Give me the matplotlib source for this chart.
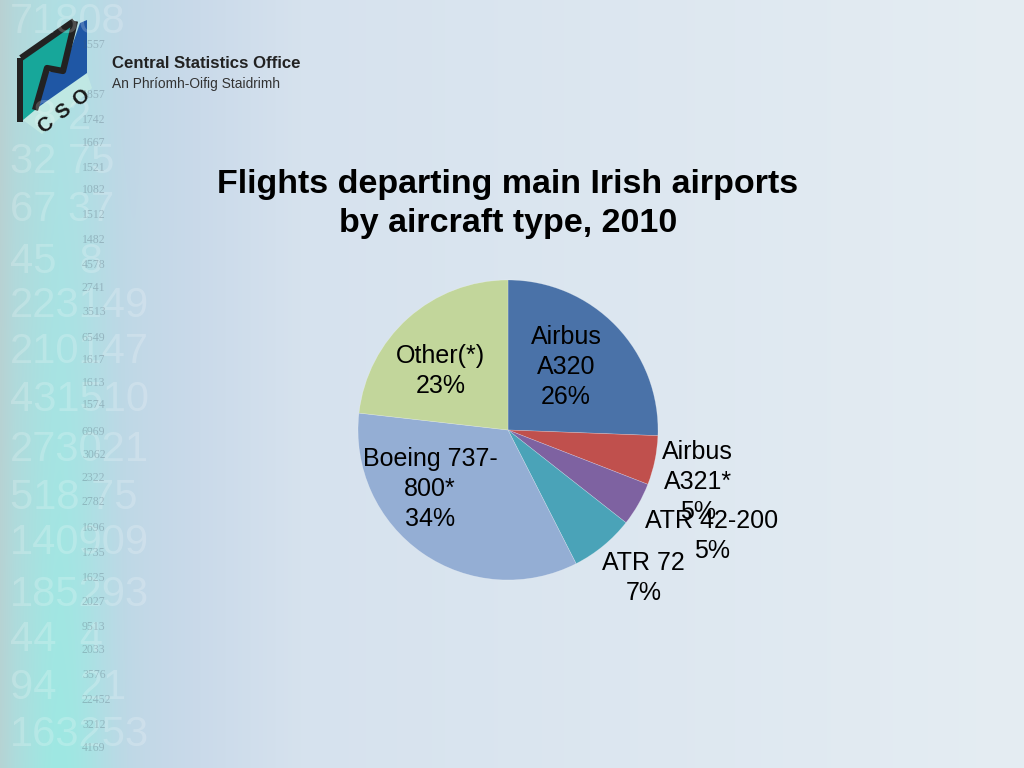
import numpy as np
import matplotlib
matplotlib.use("Agg")
import matplotlib.pyplot as plt
from matplotlib.patches import Polygon, Rectangle

plt.rcParams['font.family'] = ['Liberation Sans', 'DejaVu Sans']

# ---- data ----
aircraft = ["Airbus\nA320", "Airbus\nA321*", "ATR 42-200", "ATR 72", "Boeing 737-\n800*", "Other(*)"]
shares = [25.6, 5.3, 4.7, 6.9, 34.3, 23.2]
colors = ["#4A72A8", "#C0504D", "#7E62A1", "#4AA3B8", "#94AED4", "#C2D69B"]
title = "Flights departing main Irish airports\nby aircraft type, 2010"

# label placement styling (radial distance in radii, angular offset from wedge middle)
label_r = [0.57, 1.31, 1.53, 1.34, 0.65, 0.60]
label_off = [3.4, -3.6, 2.2, 3.0, -18.2, 7.0]

W, H = 1024, 768
fig = plt.figure(figsize=(W / 100, H / 100), dpi=100)

# ---- background gradient ----
bg = fig.add_axes([0, 0, 1, 1], zorder=-10)
xs = np.arange(W)
ys = np.arange(H)
stops_x = [0, 15, 60, 120, 200, 300, 1024]
stops_c = np.array([[186, 208, 210], [182, 214, 218], [182, 220, 228], [192, 215, 230],
                    [202, 218, 234], [214, 226, 238], [229, 237, 243]], dtype=float)
row = np.stack([np.interp(xs, stops_x, stops_c[:, k]) for k in range(3)], axis=1)
img = np.repeat(row[None, :, :], H, axis=0)
# teal glow on the left, stronger toward the bottom
gx = np.exp(-((xs - 60) / 45.0) ** 2)
gy = 0.25 + 0.75 * (ys / H)
amp = gy[:, None] * gx[None, :]
teal = np.array([150, 236, 226], dtype=float)
img = img * (1 - 0.75 * amp[:, :, None]) + teal[None, None, :] * 0.75 * amp[:, :, None]
bg.imshow(np.clip(img, 0, 255).astype(np.uint8), extent=[0, W, H, 0], aspect='auto')
bg.set_xlim(0, W)
bg.set_ylim(H, 0)
bg.axis('off')

# faded background numbers
big_rows = [(22, "71808"), (118, "  8 2"), (162, "32 75"), (210, "67 37"), (262, "45  8"),
            (306, "223149"), (352, "210147"), (400, "431510"), (450, "273021"),
            (498, "518 75"), (543, "140909"), (595, "185293"), (640, "44  4"),
            (688, "94  21"), (735, "163253")]
for y, s in big_rows:
    bg.text(10, y, s, fontsize=30, color="white", alpha=0.2, va='center', ha='left',
            family='Liberation Sans')
small_rows = [(45, "1557"), (95, "1857"), (120, "1742"), (143, "1667"), (168, "1521"),
              (190, "1082"), (215, "1512"), (240, "1482"), (265, "4578"), (288, "2741"),
              (312, "3513"), (338, "6549"), (360, "1617"), (383, "1613"), (405, "1574"),
              (432, "6969"), (455, "3062"), (478, "2322"), (502, "2782"), (528, "1696"),
              (553, "1735"), (578, "1625"), (602, "2027"), (627, "9513"), (650, "2033"),
              (675, "3576"), (700, "22452"), (725, "3212"), (748, "4169")]
for y, s in small_rows:
    bg.text(82, y, s, fontsize=8.5, color="#4a5a6a", alpha=0.3, va='center', ha='left',
            family='Liberation Serif')

# ---- logo ----
teal_face = [(23, 60), (73, 23), (60, 72), (47, 68), (35, 110), (23, 120)]
blue_face = [(80, 23), (87, 20), (87, 73), (37, 108), (47, 72), (63, 72)]
bottom_face = [(23, 120), (35, 110), (37, 108), (87, 73), (92, 88), (42, 134)]
bg.add_patch(Polygon(bottom_face, closed=True, facecolor="#c4ebe4", edgecolor="none", alpha=0.8))
bg.add_patch(Polygon(teal_face, closed=True, facecolor="#17A79A", edgecolor="none"))
bg.add_patch(Polygon(blue_face, closed=True, facecolor="#1F57A5", edgecolor="none"))
bg.plot([75, 63, 47, 35], [21, 71, 68, 110], color="#222222", lw=4.5, solid_capstyle='butt')
bg.plot([21, 74], [58, 21], color="#222222", lw=4.5, solid_capstyle='butt')
bg.add_patch(Rectangle((17, 58), 6, 64, facecolor="#222222", edgecolor="none"))
for ch, (cx, cy) in zip("CSO", [(45, 125), (63, 112), (81, 98)]):
    bg.text(cx, cy, ch, fontsize=14.5, fontweight='bold', color="#1a1a1a", rotation=38,
            ha='center', va='center')
bg.text(112, 64, "Central Statistics Office", fontsize=12.1, fontweight='bold',
        color="#222222", ha='left', va='center')
bg.text(112, 84, "An Phríomh-Oifig Staidrimh", fontsize=9.9, color="#333333",
        ha='left', va='center')

# ---- title ----
fig.text(508 / W, 1 - 204 / H, title, fontsize=24.5, fontweight='bold', color='black',
         ha='center', va='center', multialignment='center', linespacing=1.35)

# ---- pie ----
cx, cy, R = 508, 430, 150
ax = fig.add_axes([(cx - R) / W, (H - cy - R) / H, 2 * R / W, 2 * R / H])
wedges, _ = ax.pie(shares, colors=colors, startangle=90, counterclock=False,
                   wedgeprops=dict(linewidth=0.4, edgecolor=(1, 1, 1, 0.35)),
                   radius=1.0)
ax.set_xlim(-1, 1)
ax.set_ylim(-1, 1)
ax.set_aspect('equal')
ax.axis('off')

for w, name, v, r, off in zip(wedges, aircraft, shares, label_r, label_off):
    mid = np.deg2rad((w.theta1 + w.theta2) / 2 + off)
    ax.text(r * np.cos(mid), r * np.sin(mid), f"{name}\n{round(v)}%", fontsize=18,
            color='black', ha='center', va='center', multialignment='center',
            linespacing=1.31, clip_on=False)

fig.savefig("out.png", dpi=100)
